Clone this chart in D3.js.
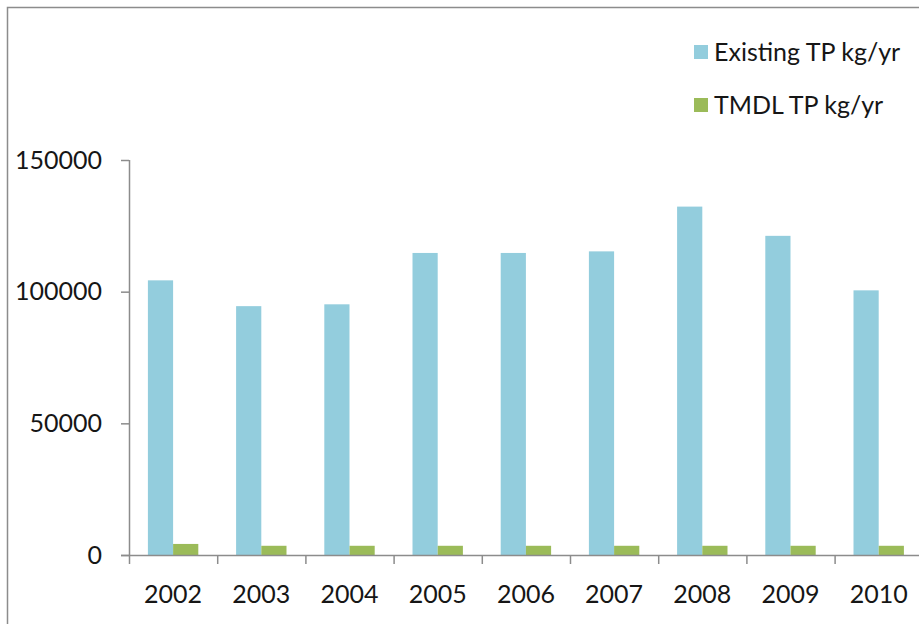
<!DOCTYPE html>
<html>
<head>
<meta charset="utf-8">
<script src="https://cdn.jsdelivr.net/npm/d3@7"></script>
<style>
  html, body { margin: 0; padding: 0; background: #fff; }
  svg { display: block; }
  text { font-family: Lato, "Open Sans", sans-serif; fill: #161616; }
</style>
</head>
<body>
<svg id="chart" width="919" height="624"></svg>
<script>
// Annual total phosphorus loads, existing vs. TMDL target
const years = ["2002", "2003", "2004", "2005", "2006", "2007", "2008", "2009", "2010"];
const existingTP = [104300, 94500, 95200, 114700, 114700, 115300, 132300, 121200, 100500];
const tmdlTP = [4200, 3500, 3500, 3500, 3500, 3500, 3500, 3500, 3500];
const seriesNames = ["Existing TP kg/yr", "TMDL TP kg/yr"];
const seriesColors = ["#93cddd", "#9bbb59"];
const yTicks = [0, 50000, 100000, 150000];

const svg = d3.select("#chart");
const fontSize = "25px";

// chart frame
svg.append("rect")
  .attr("x", 7.5).attr("y", 7.5)
  .attr("width", 940).attr("height", 640)
  .attr("fill", "#fff")
  .attr("stroke", "#8c8c8c")
  .attr("stroke-width", 1.5);

const plotLeft = 129, step = 88.2, plotBottom = 555, plotTop = 160;

const x = d3.scaleBand()
  .domain(years)
  .range([plotLeft, plotLeft + step * years.length])
  .paddingInner(0).paddingOuter(0);

const xs = d3.scaleBand()
  .domain(seriesNames)
  .range([0, x.bandwidth()])
  .paddingInner(0).paddingOuter(0.75);

const y = d3.scaleLinear().domain([0, 150000]).range([plotBottom, plotTop]);

const rows = years.map((yr, i) => ({ year: yr, values: [existingTP[i], tmdlTP[i]] }));

// bars
const groups = svg.append("g").selectAll("g")
  .data(rows).join("g")
  .attr("transform", d => `translate(${x(d.year)},0)`);

groups.selectAll("rect")
  .data(d => d.values.map((v, k) => ({ name: seriesNames[k], value: v, color: seriesColors[k] })))
  .join("rect")
  .attr("x", d => xs(d.name))
  .attr("width", xs.bandwidth())
  .attr("y", d => y(d.value))
  .attr("height", d => y(0) - y(d.value))
  .attr("fill", d => d.color);

// y axis
const yAxis = svg.append("g")
  .attr("transform", `translate(${plotLeft},0)`)
  .call(d3.axisLeft(y).tickValues(yTicks).tickFormat(d3.format("d")).tickSize(8).tickPadding(19));
yAxis.selectAll("line, path").attr("stroke", "#8c8c8c").attr("stroke-width", 1.5);
yAxis.select(".domain").attr("d", `M0.5,${plotTop}V${plotBottom}`);
yAxis.selectAll("text").style("font-size", fontSize).attr("fill", "#161616");

// x axis line and category boundary ticks
const xAxis = svg.append("g");
xAxis.append("line")
  .attr("x1", plotLeft - 8).attr("x2", 919)
  .attr("y1", plotBottom + 0.5).attr("y2", plotBottom + 0.5)
  .attr("stroke", "#8c8c8c").attr("stroke-width", 1.5);
xAxis.selectAll("line.tick")
  .data(years)
  .join("line")
  .attr("class", "tick")
  .attr("x1", d => x(d) + 0.5).attr("x2", d => x(d) + 0.5)
  .attr("y1", plotBottom).attr("y2", plotBottom + 9)
  .attr("stroke", "#8c8c8c").attr("stroke-width", 1.5);
xAxis.selectAll("text")
  .data(years)
  .join("text")
  .attr("x", d => x(d) + x.bandwidth() / 2)
  .attr("y", 603)
  .attr("text-anchor", "middle")
  .style("font-size", fontSize)
  .text(d => d);

// legend
const legend = svg.append("g");
const legendY = [52, 105];
seriesNames.forEach((name, k) => {
  legend.append("rect")
    .attr("x", 694).attr("y", legendY[k] - 7)
    .attr("width", 14).attr("height", 14)
    .attr("fill", seriesColors[k]);
  legend.append("text")
    .attr("x", 714).attr("y", legendY[k])
    .attr("dy", "0.36em")
    .style("font-size", fontSize)
    .text(name);
});
</script>
</body>
</html>
